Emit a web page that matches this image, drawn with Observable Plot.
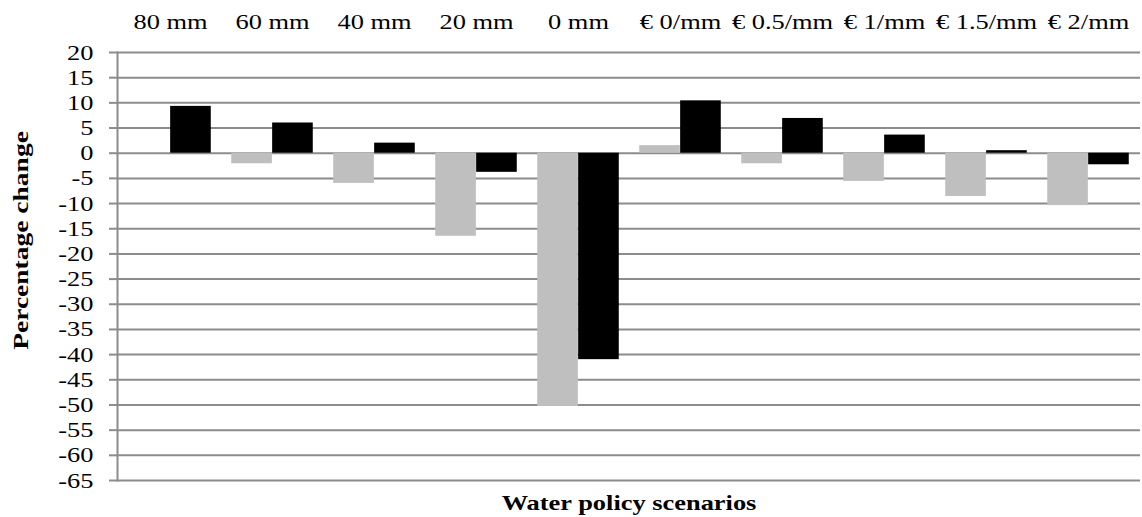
<!DOCTYPE html>
<html>
<head>
<meta charset="utf-8">
<script src="https://cdn.jsdelivr.net/npm/d3@7"></script>
<script src="https://cdn.jsdelivr.net/npm/@observablehq/plot@0.6"></script>
<style>
  html, body { margin: 0; padding: 0; background: #fff; }
  #chart svg, #chart svg text { font-family: "Liberation Serif", "Times New Roman", serif !important; }
</style>
</head>
<body>
<div id="chart"></div>
<script>
const categories = ["80 mm", "60 mm", "40 mm", "20 mm", "0 mm", "€ 0/mm", "€ 0.5/mm", "€ 1/mm", "€ 1.5/mm", "€ 2/mm"];
const greySeries = [0, -2.1, -6.0, -16.5, -50.3, 1.5, -2.1, -5.6, -8.6, -10.4];
const blackSeries = [9.3, 6.0, 2.0, -3.8, -41.0, 10.4, 6.9, 3.6, 0.5, -2.3];
const yTicks = [20, 15, 10, 5, 0, -5, -10, -15, -20, -25, -30, -35, -40, -45, -50, -55, -60, -65];
const xTitle = "Water policy scenarios";
const yTitle = "Percentage change";

const greyData = categories.map((c, i) => ({cat: c, value: greySeries[i]}));
const blackData = categories.map((c, i) => ({cat: c, value: blackSeries[i]}));

const W = 1142, H = 517, mL = 117, mR = 2, mT = 52, mB = 37;
const band = (W - mL - mR) / categories.length;
const barW = band * 0.4;
const gap = (band - 2 * barW) / 2;
const FONT = "Liberation Serif";

const chart = Plot.plot({
  width: W,
  height: H,
  marginLeft: mL,
  marginRight: mR,
  marginTop: mT,
  marginBottom: mB,
  style: {fontFamily: FONT, fontSize: "22px", color: "#000", background: "#fff"},
  x: {domain: categories, padding: 0, axis: null},
  y: {domain: [-65, 20], axis: null},
  marks: [
    Plot.ruleY(yTicks, {stroke: "#8c8c8c", strokeWidth: 2}),
    Plot.barY(greyData, {x: "cat", y: "value", fill: "#bfbfbf", insetLeft: gap, insetRight: gap + barW}),
    Plot.barY(blackData, {x: "cat", y: "value", fill: "#000", insetLeft: gap + barW, insetRight: gap}),
    Plot.frame({anchor: "left", stroke: "#8c8c8c", strokeWidth: 2}),
    Plot.axisY({ticks: yTicks, tickSize: 8, tickPadding: 16, stroke: "#8c8c8c", strokeWidth: 2, fill: "#000", fontSize: 22, fontFamily: FONT, label: null, tickFormat: d => d < 0 ? "-" + Math.abs(d) : String(d)}),
    Plot.axisX({anchor: "top", tickSize: 0, tickPadding: 24, fontSize: 22, fontFamily: FONT, fill: "#000", label: null}),
    Plot.text([yTitle], {text: d => d, frameAnchor: "left", textAnchor: "middle", rotate: -90, dx: -97, dy: -26, fontSize: 22, fontFamily: FONT, fontWeight: "bold", fill: "#000"}),
    Plot.text([xTitle], {text: d => d, frameAnchor: "bottom", dy: 29, fontSize: 22, fontFamily: FONT, fontWeight: "bold", fill: "#000"})
  ]
});
document.getElementById("chart").appendChild(chart);

// Widen glyphs slightly along the text direction to match the reference's stretched lettering
chart.querySelectorAll("text").forEach(t => {
  const len = t.getComputedTextLength();
  if (len > 0) {
    const isYTitle = t.textContent === yTitle;
    t.setAttribute("textLength", (len * (isYTitle ? 1.25 : 1.2)).toFixed(1));
    t.setAttribute("lengthAdjust", "spacingAndGlyphs");
  }
});
</script>
</body>
</html>
